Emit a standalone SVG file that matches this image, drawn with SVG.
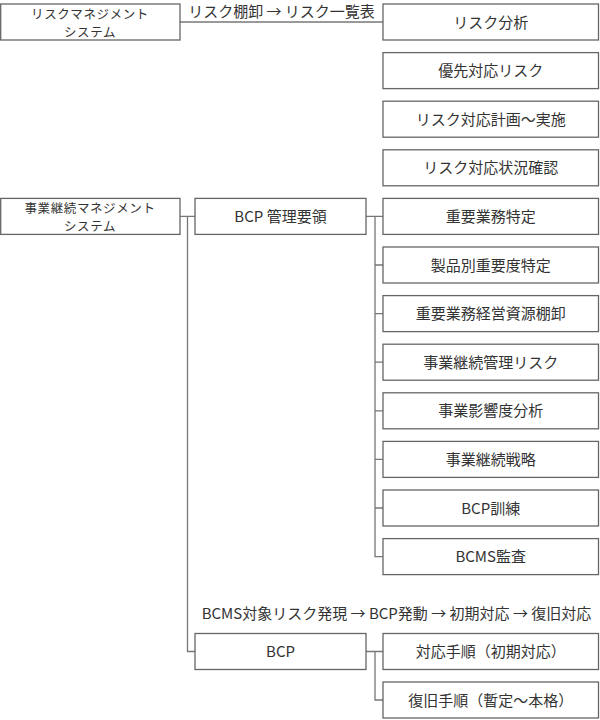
<svg xmlns="http://www.w3.org/2000/svg" width="600" height="720" viewBox="0 0 600 720">
<style>
.box{fill:#fff;stroke:#666;stroke-width:1.3}
.ln{fill:none;stroke:#777;stroke-width:1.3}
text{font-family:"Noto Sans CJK JP","Noto Sans",sans-serif;fill:#333;text-anchor:middle}
.t{font-size:15px}
.t2{font-size:12.5px;letter-spacing:0.6px}
</style>
<rect width="600" height="720" fill="#fff"/>
<g id="connectors">
<path class="ln" d="M180 22H383"/>
<path class="ln" d="M180 216.4H195M187.5 216.4V651.5H195"/>
<path class="ln" d="M366 216.4H383M375 216.4V556.6H383M375 265H383M375 313.6H383M375 362.2H383M375 410.8H383M375 459.4H383M375 508H383"/>
<path class="ln" d="M366 651.5H383M375 651.5V700H383"/>
<text class="t" x="281.5" y="16.5">リスク棚卸 → リスク一覧表</text>
<text class="t" x="396.5" y="619">BCMS対象リスク発現 → BCP発動 → 初期対応 → 復旧対応</text>
</g>
<g id="rms"><rect class="box" x="0.7" y="4" width="179.3" height="36"/><text class="t2" x="90" y="18.6">リスクマネジメント<tspan x="90" y="36.7">システム</tspan></text></g>
<g id="bcms"><rect class="box" x="0.7" y="198.4" width="179.3" height="36"/><text class="t2" x="90" y="213">事業継続マネジメント<tspan x="90" y="231.1">システム</tspan></text></g>
<g id="bcp-manual"><rect class="box" x="195" y="198.4" width="171" height="36"/><text class="t" x="280.5" y="222">BCP 管理要領</text></g>
<g id="bcp"><rect class="box" x="195" y="633.5" width="171" height="36"/><text class="t" x="280.5" y="657">BCP</text></g>
<g id="r1"><rect class="box" x="383" y="4" width="215.5" height="36"/><text class="t" x="490.7" y="27.5">リスク分析</text></g>
<g id="r2"><rect class="box" x="383" y="52.6" width="215.5" height="36"/><text class="t" x="490.7" y="76.1">優先対応リスク</text></g>
<g id="r3"><rect class="box" x="383" y="101.2" width="215.5" height="36"/><text class="t" x="490.7" y="124.7">リスク対応計画～実施</text></g>
<g id="r4"><rect class="box" x="383" y="149.8" width="215.5" height="36"/><text class="t" x="490.7" y="173.3">リスク対応状況確認</text></g>
<g id="b1"><rect class="box" x="383" y="198.4" width="215.5" height="36"/><text class="t" x="490.7" y="221.9">重要業務特定</text></g>
<g id="b2"><rect class="box" x="383" y="247" width="215.5" height="36"/><text class="t" x="490.7" y="270.5">製品別重要度特定</text></g>
<g id="b3"><rect class="box" x="383" y="295.6" width="215.5" height="36"/><text class="t" x="490.7" y="319.1">重要業務経営資源棚卸</text></g>
<g id="b4"><rect class="box" x="383" y="344.2" width="215.5" height="36"/><text class="t" x="490.7" y="367.7">事業継続管理リスク</text></g>
<g id="b5"><rect class="box" x="383" y="392.8" width="215.5" height="36"/><text class="t" x="490.7" y="416.3">事業影響度分析</text></g>
<g id="b6"><rect class="box" x="383" y="441.4" width="215.5" height="36"/><text class="t" x="490.7" y="464.9">事業継続戦略</text></g>
<g id="b7"><rect class="box" x="383" y="490" width="215.5" height="36"/><text class="t" x="490.7" y="513.5">BCP訓練</text></g>
<g id="b8"><rect class="box" x="383" y="538.6" width="215.5" height="36"/><text class="t" x="490.7" y="562.1">BCMS監査</text></g>
<g id="p1"><rect class="box" x="383" y="633.5" width="215.5" height="36"/><text class="t" x="490.7" y="657">対応手順（初期対応）</text></g>
<g id="p2"><rect class="box" x="383" y="682" width="215.5" height="36"/><text class="t" x="490.7" y="705.5">復旧手順（暫定～本格）</text></g>
</svg>
